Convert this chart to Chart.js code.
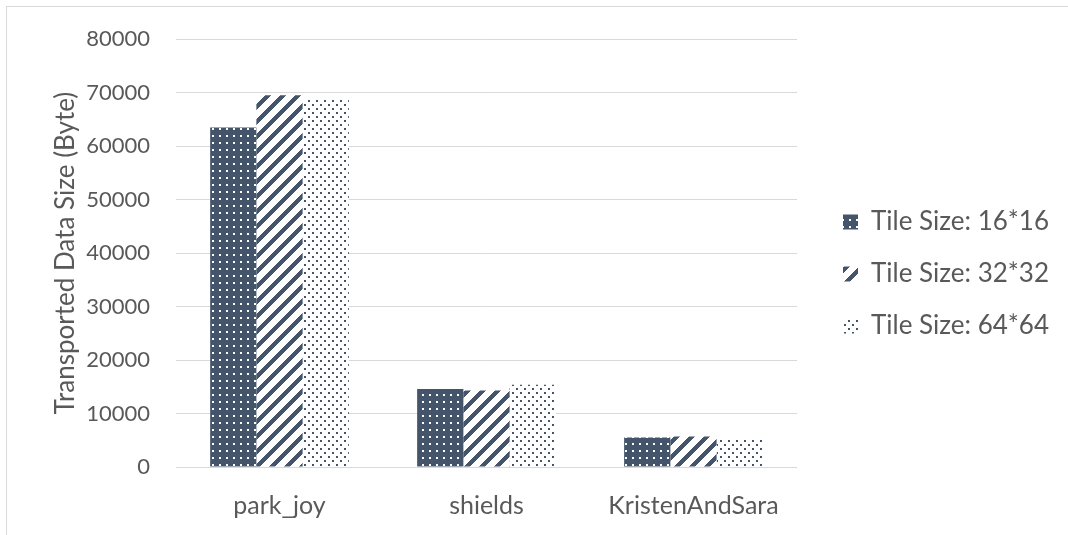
<!DOCTYPE html>
<html lang="en">
<head>
    <meta charset="utf-8">
    <title>Transported Data Size</title>
    <style>
        body { margin: 0; background: #fff; overflow: hidden; }
        #frame { position: absolute; left: 6px; top: 6px; width: 1200px; height: 700px; border: 1px solid #d9d9d9; }
        #myChart { position: absolute; left: 0; top: 0; }
    </style>
</head>
<body>
    <div id="frame"></div>
    <canvas id="myChart" width="1068" height="535"></canvas>
    <script src="https://cdn.jsdelivr.net/npm/chart.js"></script>
    <script>
        // data
        const videos = ['park_joy', 'shields', 'KristenAndSara'];
        const tile16 = [63500, 14600, 5500];
        const tile32 = [69500, 14300, 5700];
        const tile64 = [69000, 15400, 5400];
        const seriesNames = ['Tile Size: 16*16', 'Tile Size: 32*32', 'Tile Size: 64*64'];

        const navy = '#44546a';
        const textColor = '#595959';
        const fontFamily = 'Lato, "Open Sans", sans-serif';

        // small tiles for the pattern fills
        const makePattern = (size, paint) => {
            const c = document.createElement('canvas');
            c.width = size;
            c.height = size;
            const g = c.getContext('2d');
            paint(g, size);
            return document.getElementById('myChart').getContext('2d').createPattern(c, 'repeat');
        }

        // dark fill with white dots
        const darkDots = makePattern(7, (g, s) => {
            g.fillStyle = navy;
            g.fillRect(0, 0, s, s);
            g.fillStyle = '#fff';
            g.fillRect(2, 2, 2, 2);
        });

        // wide upward diagonal
        const stripes = makePattern(15, (g, s) => {
            g.fillStyle = '#fff';
            g.fillRect(0, 0, s, s);
            g.fillStyle = navy;
            for (let y = 0; y < s; y++) {
                for (let x = 0; x < s; x++) {
                    if ((x + y) % s < 6) g.fillRect(x, y, 1, 1);
                }
            }
        });

        // white fill with small dark dots
        const lightDots = makePattern(8, (g, s) => {
            g.fillStyle = '#fff';
            g.fillRect(0, 0, s, s);
            g.fillStyle = navy;
            g.fillRect(0, 0, 2, 2);
            g.fillRect(4, 4, 2, 2);
        });

        // move the legend column a bit right and up
        const legendShift = {
            id: 'legendShift',
            afterLayout(chart) {
                chart.legend.left += 20;
                chart.legend.right += 20;
                chart.legend.top -= 5;
                chart.legend.bottom -= 5;
            }
        };

        const ctx = document.getElementById('myChart').getContext('2d');
        const myChart = new Chart(ctx, {
            type: 'bar',
            data: {
                labels: videos,
                datasets: [
                    { label: seriesNames[0], data: tile16, backgroundColor: darkDots, borderWidth: 0 },
                    { label: seriesNames[1], data: tile32, backgroundColor: stripes, borderWidth: 0 },
                    { label: seriesNames[2], data: tile64, backgroundColor: lightDots, borderWidth: 0 }
                ]
            },
            options: {
                responsive: false,
                animation: false,
                events: [],
                layout: { padding: { left: 50, top: 23, right: 29, bottom: 0 } },
                datasets: {
                    bar: { barPercentage: 1, categoryPercentage: 0.67 }
                },
                plugins: {
                    tooltip: { enabled: false },
                    legend: {
                        position: 'right',
                        labels: {
                            color: textColor,
                            font: { family: fontFamily, size: 26 },
                            boxWidth: 15,
                            boxHeight: 15,
                            padding: 26
                        }
                    }
                },
                scales: {
                    x: {
                        grid: { display: false },
                        border: { display: false },
                        ticks: {
                            color: textColor,
                            font: { family: fontFamily, size: 25 },
                            padding: 16
                        },
                        afterFit: scale => { scale.height = 68; }
                    },
                    y: {
                        min: 0,
                        max: 80000,
                        ticks: {
                            stepSize: 10000,
                            callback: v => v,
                            color: textColor,
                            font: { family: fontFamily, size: 22 },
                            padding: 26
                        },
                        grid: { color: '#d9d9d9', lineWidth: 1, drawTicks: false },
                        border: { display: false },
                        title: {
                            display: true,
                            text: 'Transported Data Size (Byte)',
                            color: textColor,
                            font: { family: fontFamily, size: 26 },
                            padding: 0
                        },
                        afterFit: scale => { scale.width = 126; }
                    }
                }
            },
            plugins: [legendShift]
        });
    </script>
</body>
</html>
